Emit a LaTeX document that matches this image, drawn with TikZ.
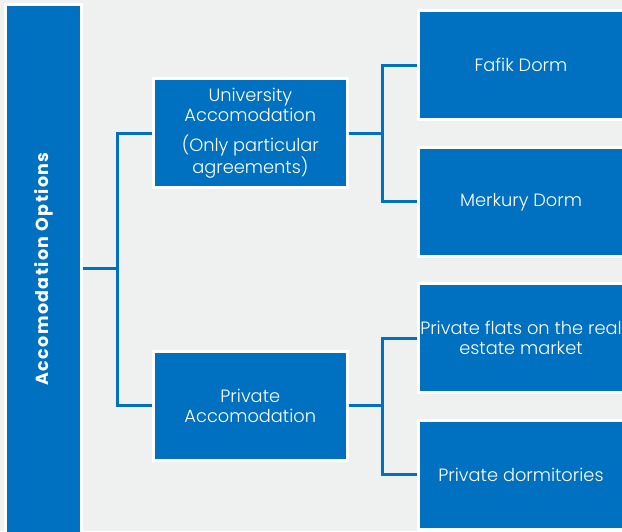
\documentclass[tikz,border=0pt]{standalone}
\usepackage{fontspec}
\setmainfont{Poppins}
\newfontfamily\boxfont{Poppins Light}
\newfontfamily\titlefont{Poppins}[LetterSpace=8]
\definecolor{accblue}{HTML}{0070C0}
\definecolor{bggray}{HTML}{EFF0F0}

\begin{document}
\begin{tikzpicture}[
  x=1pt, y=1pt,
  box/.style={rectangle, draw=white, line width=3pt, fill=accblue, text=white, inner sep=0pt, align=center, font=\boxfont\fontsize{17.8}{20}\selectfont},
  branch/.style={box, minimum width=193.7pt, minimum height=108.7pt},
  leaf/.style={box, minimum width=206pt, minimum height=108.7pt},
  link/.style={draw=accblue, line width=3pt}
]
\fill[bggray] (0,0) rectangle (622,531);
\useasboundingbox (0,0) rectangle (622,531);

\node[box, minimum width=76pt, minimum height=529pt] (root) at (43.6,262) {};
\node[rotate=90, text=white, font=\titlefont\bfseries\fontsize{17.5}{20}\selectfont] (roottext) at (root.center) {Accomodation Options};

\node[branch] (univ) at (250.3,397.8) {University\\Accomodation\\[10pt](Only particular\\agreements)};
\node[branch] (priv) at (250.3,125) {Private\\Accomodation};

\node[leaf] (fafik) at (521,465.7) {Fafik Dorm};
\node[leaf] (merkury) at (521,329) {Merkury Dorm};
\node[leaf] (flats) at (521,192.8) {Private flats on the real\\estate market};
\node[leaf] (dorms) at (521,56.2) {Private dormitories};

\draw[link] (root.east) -- ++(34.6,0) |- (univ.west);
\draw[link] (root.east) -- ++(34.6,0) |- (priv.west);
\draw[link] (univ.east) -- ++(33.6,0) |- (fafik.west);
\draw[link] (univ.east) -- ++(33.6,0) |- (merkury.west);
\draw[link] (priv.east) -- ++(33.6,0) |- (flats.west);
\draw[link] (priv.east) -- ++(33.6,0) |- (dorms.west);
\end{tikzpicture}
\end{document}
